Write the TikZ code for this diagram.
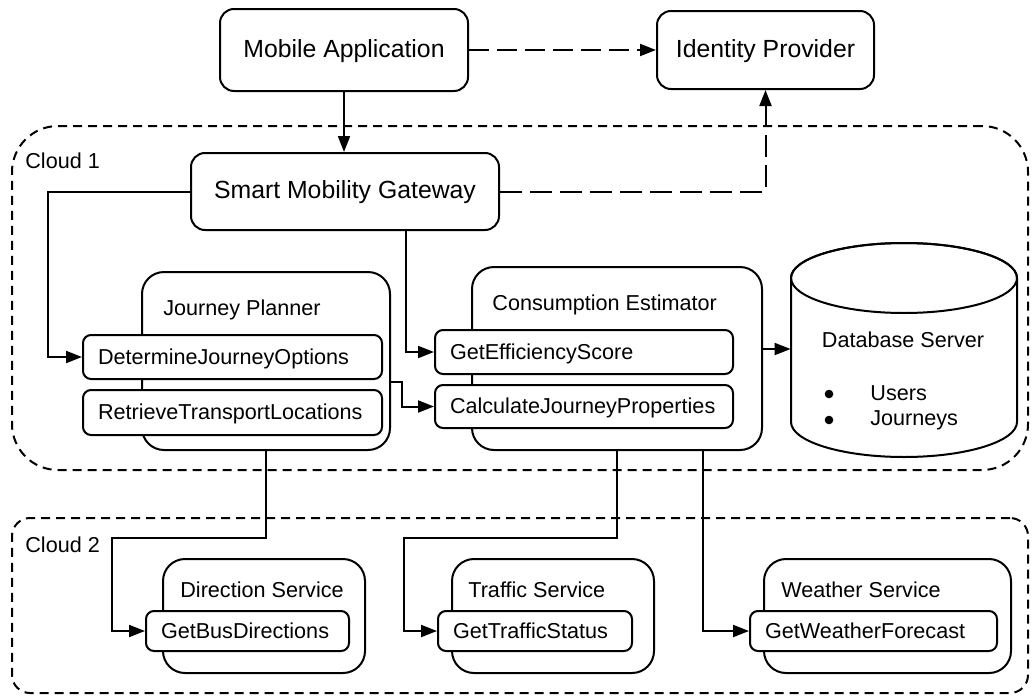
\documentclass[tikz,border=0pt]{standalone}
\usepackage{fontspec}
\setmainfont{Liberation Sans}
\usetikzlibrary{arrows.meta,calc}
\tikzset{
  big/.style={font=\fontsize{12.4}{14}\selectfont},
  small/.style={font=\fontsize{10.8}{13}\selectfont},
  topbox/.style={draw, line width=1pt, rounded corners=7pt, fill=white, inner sep=0pt, text height=0.72em, text depth=0pt, big},
  compbox/.style={draw, line width=1pt, rounded corners=11pt, fill=white, inner sep=0pt},
  methbox/.style={draw, line width=1pt, rounded corners=4pt, fill=white, inner xsep=7.5pt, inner ysep=0pt, text height=0.72em, text depth=0pt, small, align=left},
  cloudbox/.style={draw, line width=1pt, dash pattern=on 4.5pt off 3pt, inner sep=0pt},
  conn/.style={line width=1pt, -{Triangle[length=8pt,width=6pt]}},
  dconn/.style={conn, dash pattern=on 10pt off 4pt},
  lbl/.style={small, inner sep=0pt, anchor=base west},
  dot/.style={circle, fill=black, inner sep=0pt, minimum size=4.3pt},
}
\begin{document}
\begin{tikzpicture}[x=0.5pt,y=-0.5pt]
\useasboundingbox (0,0) rectangle (1032,696);

% clouds
\node[cloudbox, rounded corners=23pt, minimum width=508pt, minimum height=172pt] (c1) at (520,298) {};
\node[cloudbox, rounded corners=9pt, minimum width=508pt, minimum height=87.5pt] (c2) at (520,605.5) {};
\node[lbl] (c1t) at (25,168) {Cloud 1};
\node[lbl] (c2t) at (25,552) {Cloud 2};

% top boxes
\node[topbox, minimum width=124pt, minimum height=41pt] (mob) at (344,50) {Mobile Application};
\node[topbox, minimum width=108.5pt, minimum height=39pt] (idp) at (765.5,50) {Identity Provider};
\node[topbox, minimum width=154pt, minimum height=38.5pt] (gw) at (345,191.5) {Smart Mobility Gateway};

% components
\node[compbox, minimum width=124pt, minimum height=89pt] (jp) at (266,361) {};
\node[compbox, minimum width=145pt, minimum height=91.5pt] (ce) at (617,358.5) {};
\node[compbox, minimum width=101pt, minimum height=57pt] (ds) at (264,616) {};
\node[compbox, minimum width=101pt, minimum height=57pt] (ts) at (553,616) {};
\node[compbox, minimum width=123.5pt, minimum height=57pt] (ws) at (887.5,616) {};

\node[lbl] (jpt) at (163,315) {Journey Planner};
\node[lbl] (cet) at (492,310) {Consumption Estimator};
\node[lbl] (dst) at (180,597) {Direction Service};
\node[lbl] (tst) at (468,597) {Traffic Service};
\node[lbl] (wst) at (781,597) {Weather Service};

% methods
\node[methbox, text width=134.5pt, minimum height=22pt] (djo) at (232.5,357) {DetermineJourneyOptions};
\node[methbox, text width=134.5pt, minimum height=22.5pt] (rtl) at (232.5,412.5) {RetrieveTransportLocations};
\node[methbox, text width=134pt, minimum height=22pt] (ges) at (584,352) {GetEfficiencyScore};
\node[methbox, text width=134pt, minimum height=21.5pt] (cjp) at (584,406.5) {CalculateJourneyProperties};
\node[methbox, text width=86.5pt, minimum height=20pt] (gbd) at (247.5,631) {GetBusDirections};
\node[methbox, text width=82pt, minimum height=20pt] (gts) at (535,631) {GetTrafficStatus};
\node[methbox, text width=108.5pt, minimum height=20pt] (gwf) at (873.5,631) {GetWeatherForecast};

% database
\node[minimum width=113pt, minimum height=107pt, inner sep=0pt] (db) at (904,350) {};
\draw[line width=1pt, fill=white] (791,278) -- (791,422)
  arc[start angle=180, end angle=360, x radius=56.5pt, y radius=17.5pt]
  -- (1017,278)
  arc[start angle=0, end angle=180, x radius=56.5pt, y radius=17.5pt] -- cycle;
\draw[line width=1pt] (904,278) ellipse [x radius=56.5pt, y radius=17.5pt];
\node[small, inner sep=0pt, anchor=base] (dbt) at (903,347) {Database Server};
\node[dot] (b1) at (829,394) {};
\node[lbl] (u1) at (870,400) {Users};
\node[dot] (b2) at (829,420) {};
\node[lbl] (u2) at (870,425) {Journeys};

% connectors
\draw[conn] (mob.south) -- (mob.south |- gw.north);
\draw[dconn] (mob.east) -- (idp.west);
\draw[dconn, dash pattern=on 11pt off 4pt] (gw.east) -| (idp.south);
\draw[conn] (gw.west) -| ($(djo.west)+(-34,0)$) -- (djo.west);
\draw[conn] ($(gw.south)+(61,0)$) |- (ges.west);
\draw[conn] ($(jp.east)+(0,21)$) -- ++(11,0) |- (cjp.west);
\coordinate (ceo) at ($(ce.east)+(0,-9.5)$);
\draw[conn] (ceo) -- (ceo -| db.west);
\draw[conn] (jp.south) -- ++(0,87) -| ($(gbd.west)+(-33,0)$) -- (gbd.west);
\draw[conn] (ce.south) -- ++(0,87) -| ($(gts.west)+(-33,0)$) -- (gts.west);
\draw[conn] ($(ce.south)+(86,0)$) |- (gwf.west);
\end{tikzpicture}
\end{document}
